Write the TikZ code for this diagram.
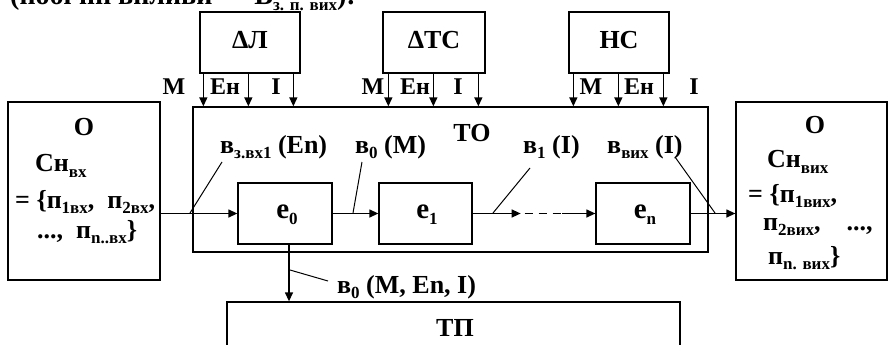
\documentclass[tikz,border=0pt]{standalone}
\usepackage{fontspec}
\setmainfont{Liberation Serif}
\usetikzlibrary{arrows.meta,calc}
\newcommand\lsub[1]{\raisebox{-0.45ex}{\fontsize{17}{17}\selectfont #1}}
\begin{document}
\begin{tikzpicture}[x=1pt,y=-1pt,
  box/.style={draw,line width=1.3pt,inner sep=0pt},
  txt/.style={font=\bfseries\fontsize{26}{28}\selectfont,inner sep=0pt},
  small/.style={font=\bfseries\fontsize{24}{26}\selectfont,inner sep=0pt},
  big/.style={font=\bfseries\fontsize{29}{30}\selectfont,inner sep=0pt},
  arr/.style={line width=1.3pt,-{Triangle[length=9pt,width=8pt]}},
  lead/.style={line width=1pt}]
\clip (0,0) rectangle (888,345);
% top clipped text
\node[font=\bfseries\fontsize{28}{30}\selectfont,inner sep=0pt,anchor=base west] (toptext) at (10,5) {(побічні впливи \ – \ В\lsub{з. п. вих}):};
% top boxes
\node[box,minimum width=100pt,minimum height=61pt] (dl) at (250,42.5) {};
\node[box,minimum width=102pt,minimum height=61pt] (dtc) at (434,42.5) {};
\node[box,minimum width=100pt,minimum height=61pt] (hc) at (619,42.5) {};
\node[txt] (dlt) at (250,40) {ΔЛ};
\node[txt] (dtct) at (434,40) {ΔТС};
\node[txt] (hct) at (619,40) {НС};
% main box
\node[box,minimum width=515pt,minimum height=145pt] (to) at (450.5,179.5) {};
\node[txt] (tot) at (472,133) {ТО};
% side boxes
\node[box,minimum width=152pt,minimum height=178pt] (oin) at (84,191) {};
\node[box,minimum width=151pt,minimum height=178pt] (oout) at (811.5,191) {};
% inner boxes
\node[box,minimum width=94pt,minimum height=61pt] (e0) at (285,213.5) {};
\node[box,minimum width=93pt,minimum height=61pt] (e1) at (425.5,213.5) {};
\node[box,minimum width=94pt,minimum height=61pt] (en) at (643,213.5) {};
\node[big] (e0t) at (287,215) {e\lsub{0}};
\node[big] (e1t) at (427,215) {e\lsub{1}};
\node[big] (ent) at (645,215) {e\lsub{n}};
% bottom box
\node[box,minimum width=453pt,minimum height=60pt] (tp) at (453.5,332) {};
\node[txt] (tpt) at (455,328) {ТП};
% vertical input arrows
\foreach \b/\s/\n in {dl/4/a,dl/49/b,dl/94/c,dtc/6/a,dtc/51/b,dtc/96/c,hc/5/a,hc/50/b,hc/95/c}{
  \coordinate (\b\n) at ([xshift=\s pt]\b.south west);
  \draw[arr] (\b\n) -- (\b\n |- to.north);
}
% input labels
\node[small] (m1) at (174,87) {M};
\node[small] (en1) at (225,87) {Ен};
\node[small] (i1) at (276,87) {I};
\node[small] (m2) at (373,87) {M};
\node[small] (en2) at (415,87) {Ен};
\node[small] (i2) at (458,87) {I};
\node[small] (m3) at (591,87) {M};
\node[small] (en3) at (639,87) {Ен};
\node[small] (i3) at (694,87) {I};
% left O text
\node[txt] (o1) at (84,127) {O};
\node[txt,anchor=west] (o1a) at (35,166) {Сн\lsub{вх}};
\node[txt,anchor=west] (o1b) at (15,202) {= \{п\lsub{1вх}, \ п\lsub{2вх},};
\node[txt,anchor=west] (o1c) at (37,232) {..., \ п\lsub{n..вх}\}};
% right O text
\node[txt] (o2) at (815,125) {O};
\node[txt,anchor=west] (o2a) at (767,162) {Сн\lsub{вих}};
\node[txt,anchor=west] (o2b) at (748,196) {= \{п\lsub{1вих},};
\node[txt,anchor=west] (o2c) at (763,227) {п\lsub{2вих}, \ \ \ ...,};
\node[txt,anchor=west] (o2d) at (768,258) {п\lsub{n. вих}\}};
% flow arrows
\coordinate (inS) at (e0.west -| oin.east);
\draw[arr] (inS) -- (e0.west);
\draw[arr] (e0.east) -- (e1.west);
\coordinate (d1) at ([xshift=48pt]e1.east);
\coordinate (d2) at ([xshift=-33pt]en.west);
\draw[arr] (e1.east) -- (d1);
\draw[line width=1.3pt,dash pattern=on 8pt off 6pt] ([xshift=4pt]d1) -- (d2);
\draw[arr] (d2) -- (en.west);
\coordinate (outE) at (en.east -| oout.west);
\draw[arr] (en.east) -- (outE);
\coordinate (e0d) at ([xshift=4pt]e0.south);
\draw[arr] (e0d) -- (e0d |- tp.north);
% leader lines and labels
\coordinate (l1a) at (190,213); \coordinate (l1b) at (222,162);
\draw[lead] (l1a) -- (l1b);
\node[txt,anchor=base west] (lab1) at (220,153) {в\lsub{з.вх1} (En)};
\coordinate (l2a) at (353,213); \coordinate (l2b) at (362,162);
\draw[lead] (l2a) -- (l2b);
\node[txt,anchor=base west] (lab2) at (355,153) {в\lsub{0} (M)};
\coordinate (l3a) at (493,213); \coordinate (l3b) at (530,168);
\draw[lead] (l3a) -- (l3b);
\node[txt,anchor=base west] (lab3) at (523,153) {в\lsub{1} (I)};
\coordinate (l4a) at (715,213); \coordinate (l4b) at (675,157);
\draw[lead] (l4a) -- (l4b);
\node[txt,anchor=base west] (lab4) at (607,153) {в\lsub{вих} (I)};
\coordinate (l5a) at (290,270); \coordinate (l5b) at (328,281);
\draw[lead] (l5a) -- (l5b);
\node[txt,anchor=base west] (lab5) at (337,293) {в\lsub{0} (M, En, I)};
\end{tikzpicture}
\end{document}
